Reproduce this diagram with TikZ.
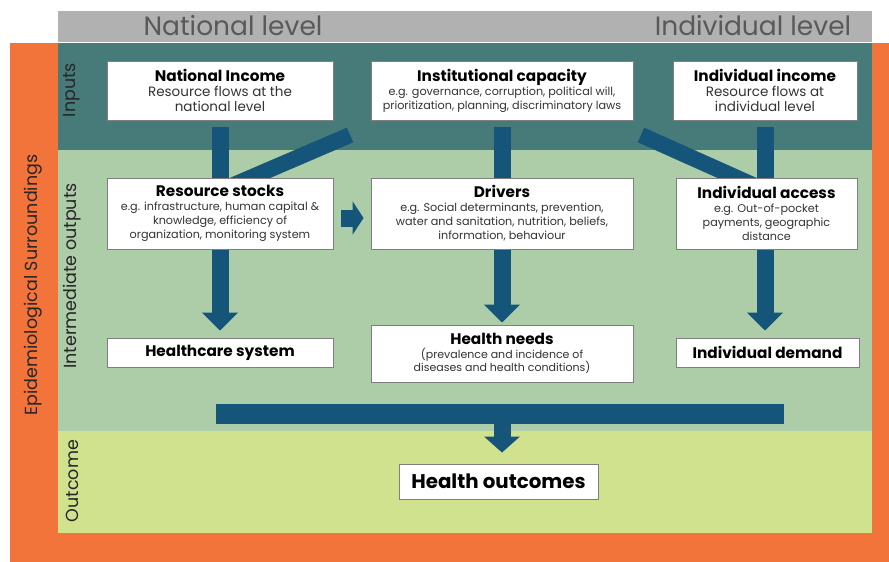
\documentclass[tikz,border=0pt]{standalone}
\usepackage{fontspec}
\setmainfont{Poppins}
\usetikzlibrary{arrows.meta,calc}
\definecolor{orng}{HTML}{F3743B}
\definecolor{hdrgray}{HTML}{B2B1B2}
\definecolor{hdrtext}{HTML}{595959}
\definecolor{tealbg}{HTML}{467B7A}
\definecolor{greenbg}{HTML}{ADCDA8}
\definecolor{yellowbg}{HTML}{D1E28E}
\definecolor{arrblue}{HTML}{16557A}
\definecolor{boxline}{HTML}{7F7F7F}
\definecolor{subtext}{HTML}{333333}
\pgfdeclarelayer{bg}
\pgfdeclarelayer{arr}
\pgfsetlayers{bg,arr,main}
\tikzset{
  box/.style={draw=boxline, line width=0.9pt, fill=white, inner sep=0pt, align=center, text=subtext},
  smbox/.style={box, font=\fontsize{11.2}{14}\selectfont},
  mdbox/.style={box, font=\fontsize{13.5}{15}\selectfont},
  ttlbox/.style={box, text=black, font=\fontsize{15.3}{17}\selectfont\bfseries},
  hdr/.style={text=hdrtext, font=\fontsize{26.5}{28}\selectfont, inner sep=0pt},
  side/.style={rotate=90, text=black!85, font=\fontsize{17.5}{19}\selectfont, inner sep=0pt},
  bar/.style={draw=arrblue, line width=17pt},
  blk/.style={bar, -{Triangle[width=35pt,length=18pt]}},
}
\newcommand{\tl}[1]{{\color{black}\fontsize{15.3}{15}\selectfont\bfseries #1}}
\begin{document}
\begin{tikzpicture}[x=1pt,y=-1pt]
\useasboundingbox (0,0) rectangle (889,562);
% background panels
\begin{pgfonlayer}{bg}
\fill[orng] (10,43.3) rectangle (889,562);
\fill[hdrgray] (58,11) rectangle (872,42.3);
\fill[tealbg] (58,43.3) rectangle (872,150);
\fill[greenbg] (58,150) rectangle (872,431);
\fill[yellowbg] (58,431) rectangle (872,533);
\end{pgfonlayer}
% header and side labels
\node[hdr] (nl) at (233,26) {National level};
\node[hdr] (il) at (753,26) {Individual level};
\node[side] (es) at (33,285) {Epidemiological Surroundings};
\node[side] (inp) at (72,90) {Inputs};
\node[side] (io) at (72,276) {Intermediate outputs};
\node[side] (oc) at (72,481) {Outcome};
% boxes
\node[mdbox, minimum width=226pt, minimum height=59pt] (ni) at (220,90.5)
  {\tl{National Income}\\Resource flows at the\\national level};
\node[smbox, minimum width=262pt, minimum height=59pt] (ic) at (502,90.5)
  {\tl{Institutional capacity}\\e.g. governance, corruption, political will,\\prioritization, planning, discriminatory laws};
\node[mdbox, minimum width=184pt, minimum height=59pt] (ii) at (765,90.5)
  {\tl{Individual income}\\Resource flows at\\individual level};
\node[smbox, minimum width=226pt, minimum height=71pt] (rs) at (220,213.5)
  {\tl{Resource stocks}\\e.g. infrastructure, human capital \&\\knowledge, efficiency of\\organization, monitoring system};
\node[smbox, minimum width=262pt, minimum height=71pt] (dr) at (502,213.5)
  {\tl{Drivers}\\e.g. Social determinants, prevention,\\water and sanitation, nutrition, beliefs,\\information, behaviour};
\node[smbox, minimum width=181pt, minimum height=71pt] (ia) at (766.5,213.5)
  {\tl{Individual access}\\e.g. Out-of-pocket\\payments, geographic\\distance};
\node[ttlbox, minimum width=226pt, minimum height=29pt] (hc) at (220,352.5)
  {Healthcare system};
\node[smbox, font=\fontsize{11}{13.5}\selectfont, minimum width=262pt, minimum height=57pt] (hn) at (502,353.5)
  {\tl{Health needs}\\(prevalence and incidence of\\diseases and health conditions)};
\node[ttlbox, minimum width=183pt, minimum height=29pt] (id) at (767.5,352.5)
  {Individual demand};
\node[ttlbox, minimum width=199pt, minimum height=35pt, font=\fontsize{19.8}{22}\selectfont\bfseries] (ho) at (498.5,481.5)
  {Health outcomes};
% connectors
\coordinate (d1s) at (350,135);
\coordinate (d1e) at (222,190);
\coordinate (d2s) at (641,135);
\coordinate (d2e) at (764,190);
\coordinate (bL) at (216,414);
\coordinate (bR) at (784,414);
\coordinate (bM) at (502,414);
\begin{pgfonlayer}{arr}
\draw[blk, shorten <=7pt, shorten >=7pt] (ni.south) -- (hc.north);
\draw[blk, shorten <=7pt, shorten >=2pt] (ic.south) -- (hn.north);
\draw[blk, shorten <=7pt, shorten >=7pt] (ii.south) -- (ii.south |- id.north);
\draw[bar, line width=16pt] (d1s) -- (d1e);
\draw[bar, line width=16pt] (d2s) -- (d2e);
\draw[bar, line width=20pt] (bL) -- (bR);
\draw[blk, -{Triangle[width=35pt,length=16pt]}, shorten >=11pt] (bM) -- (bM |- ho.north);
\draw[bar, -{Triangle[width=33pt,length=11pt]}, shorten <=8pt, shorten >=7pt]
  ($(rs.east)+(0,4.5)$) -- ($(dr.west)+(0,4.5)$);
\end{pgfonlayer}
\end{tikzpicture}
\end{document}
